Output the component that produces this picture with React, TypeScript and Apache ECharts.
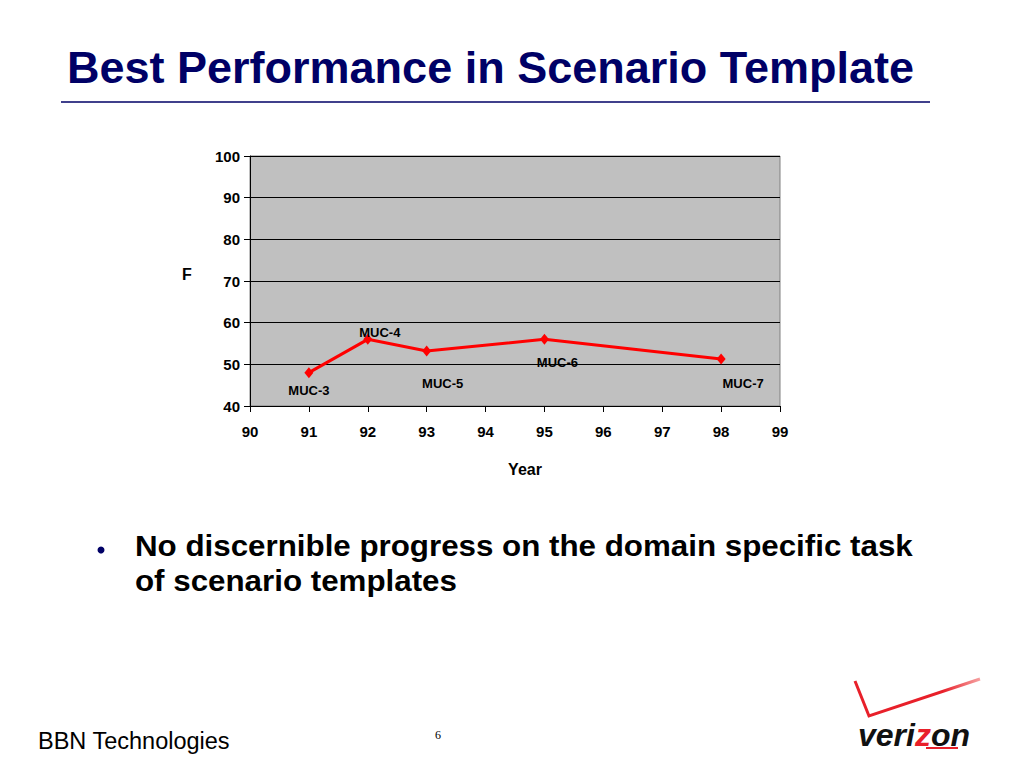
import React, { useEffect, useRef } from "react";
import * as echarts from "echarts";

const years = [91, 92, 93, 95, 98];
const fValues = [48, 56, 53.2, 56, 51.3];
const pointNames = ["MUC-3", "MUC-4", "MUC-5", "MUC-6", "MUC-7"];
const labelOffsets = [
  [0, 18],
  [12, -7],
  [16, 32],
  [13, 23],
  [22, 25],
];
const xTicks = { min: 90, max: 99, interval: 1 };
const yTicks = { min: 40, max: 100, interval: 10 };

const titleText = "Best Performance in Scenario Template";
const bulletLines = [
  "No discernible progress on the domain specific task",
  "of scenario templates",
];
const footerText = "BBN Technologies";
const pageNumber = "6";

export default function App() {
  const ref = useRef<HTMLDivElement>(null);
  useEffect(() => {
    if (!ref.current) return;
    const chart = echarts.init(ref.current, null, { renderer: "svg" });
    const navy = "#000066";
    const font = "Liberation Sans, Arial, sans-serif";
    chart.setOption({
      animation: false,
      backgroundColor: "#ffffff",
      grid: {
        left: 250,
        top: 156,
        width: 530,
        height: 250,
        show: true,
        backgroundColor: "#c0c0c0",
        borderColor: "#808080",
        borderWidth: 1,
      },
      xAxis: {
        type: "value",
        min: xTicks.min,
        max: xTicks.max,
        interval: xTicks.interval,
        axisLine: { show: true, lineStyle: { color: "#000", width: 1 } },
        axisTick: { show: true, length: 6, lineStyle: { color: "#000" } },
        splitLine: { show: false },
        axisLabel: {
          margin: 18,
          color: "#000",
          fontFamily: font,
          fontWeight: "bold",
          fontSize: 15,
        },
      },
      yAxis: {
        type: "value",
        min: yTicks.min,
        max: yTicks.max,
        interval: yTicks.interval,
        axisLine: { show: true, lineStyle: { color: "#000", width: 1 } },
        axisTick: { show: true, length: 6, lineStyle: { color: "#000" } },
        splitLine: { show: true, lineStyle: { color: "#000", width: 1 } },
        axisLabel: {
          margin: 10,
          color: "#000",
          fontFamily: font,
          fontWeight: "bold",
          fontSize: 15,
        },
      },
      series: [
        {
          type: "line",
          data: years.map((y, i) => ({
            value: [y, fValues[i]],
            label: {
              show: true,
              formatter: pointNames[i],
              position: "inside",
              offset: labelOffsets[i],
            },
          })),
          lineStyle: { color: "#ff0000", width: 3 },
          itemStyle: { color: "#ff0000" },
          symbol: "diamond",
          symbolSize: [9, 11],
          label: {
            color: "#000",
            fontFamily: font,
            fontWeight: "bold",
            fontSize: 13,
          },
          z: 3,
        },
      ],
      graphic: [
        {
          type: "text",
          x: 67,
          y: 67,
          style: {
            text: titleText,
            fill: navy,
            font: `bold 45px ${font}`,
            verticalAlign: "middle",
          },
        },
        {
          type: "line",
          shape: { x1: 61, y1: 102, x2: 930, y2: 102 },
          style: { stroke: navy, lineWidth: 1.5 },
        },
        {
          type: "text",
          x: 187,
          y: 274,
          style: {
            text: "F",
            fill: "#000",
            font: `bold 16px ${font}`,
            align: "center",
            verticalAlign: "middle",
          },
        },
        {
          type: "text",
          x: 525,
          y: 469,
          style: {
            text: "Year",
            fill: "#000",
            font: `bold 16px ${font}`,
            align: "center",
            verticalAlign: "middle",
          },
        },
        {
          type: "circle",
          shape: { cx: 101, cy: 550, r: 3.5 },
          style: { fill: navy },
        },
        {
          type: "text",
          x: 135,
          y: 546,
          scaleX: 1.08,
          style: {
            text: bulletLines[0],
            fill: "#000",
            font: `bold 29px ${font}`,
            verticalAlign: "middle",
          },
        },
        {
          type: "text",
          x: 135,
          y: 581,
          scaleX: 1.08,
          style: {
            text: bulletLines[1],
            fill: "#000",
            font: `bold 29px ${font}`,
            verticalAlign: "middle",
          },
        },
        {
          type: "text",
          x: 38,
          y: 741,
          style: {
            text: footerText,
            fill: "#000",
            font: `23.5px ${font}`,
            verticalAlign: "middle",
          },
        },
        {
          type: "text",
          x: 438,
          y: 735,
          style: {
            text: pageNumber,
            fill: "#000",
            font: `12px Liberation Serif, serif`,
            align: "center",
            verticalAlign: "middle",
          },
        },
        {
          type: "polyline",
          shape: { points: [[855, 681], [869, 716], [980, 679]] },
          style: {
            stroke: {
              type: "linear",
              x: 0,
              y: 0,
              x2: 1,
              y2: 0,
              colorStops: [
                { offset: 0, color: "#e8202a" },
                { offset: 0.7, color: "#e8202a" },
                { offset: 1, color: "#f6a0a0" },
              ],
            },
            lineWidth: 3,
            fill: null,
          },
        },
        {
          type: "text",
          x: 858,
          y: 735,
          style: {
            text: "veri{z|z}on",
            fill: "#111",
            font: `italic bold 32px ${font}`,
            verticalAlign: "middle",
            rich: {
              z: {
                fill: "#e8202a",
                font: `italic bold 32px ${font}`,
              },
            },
          },
        },
        {
          type: "line",
          shape: { x1: 926, y1: 748, x2: 958, y2: 748 },
          style: { stroke: "#e8202a", lineWidth: 2 },
        },
      ],
    });
    return () => chart.dispose();
  }, []);
  return (
    <div
      ref={ref}
      style={{ position: "absolute", left: 0, top: 0, width: 1024, height: 768 }}
    />
  );
}
